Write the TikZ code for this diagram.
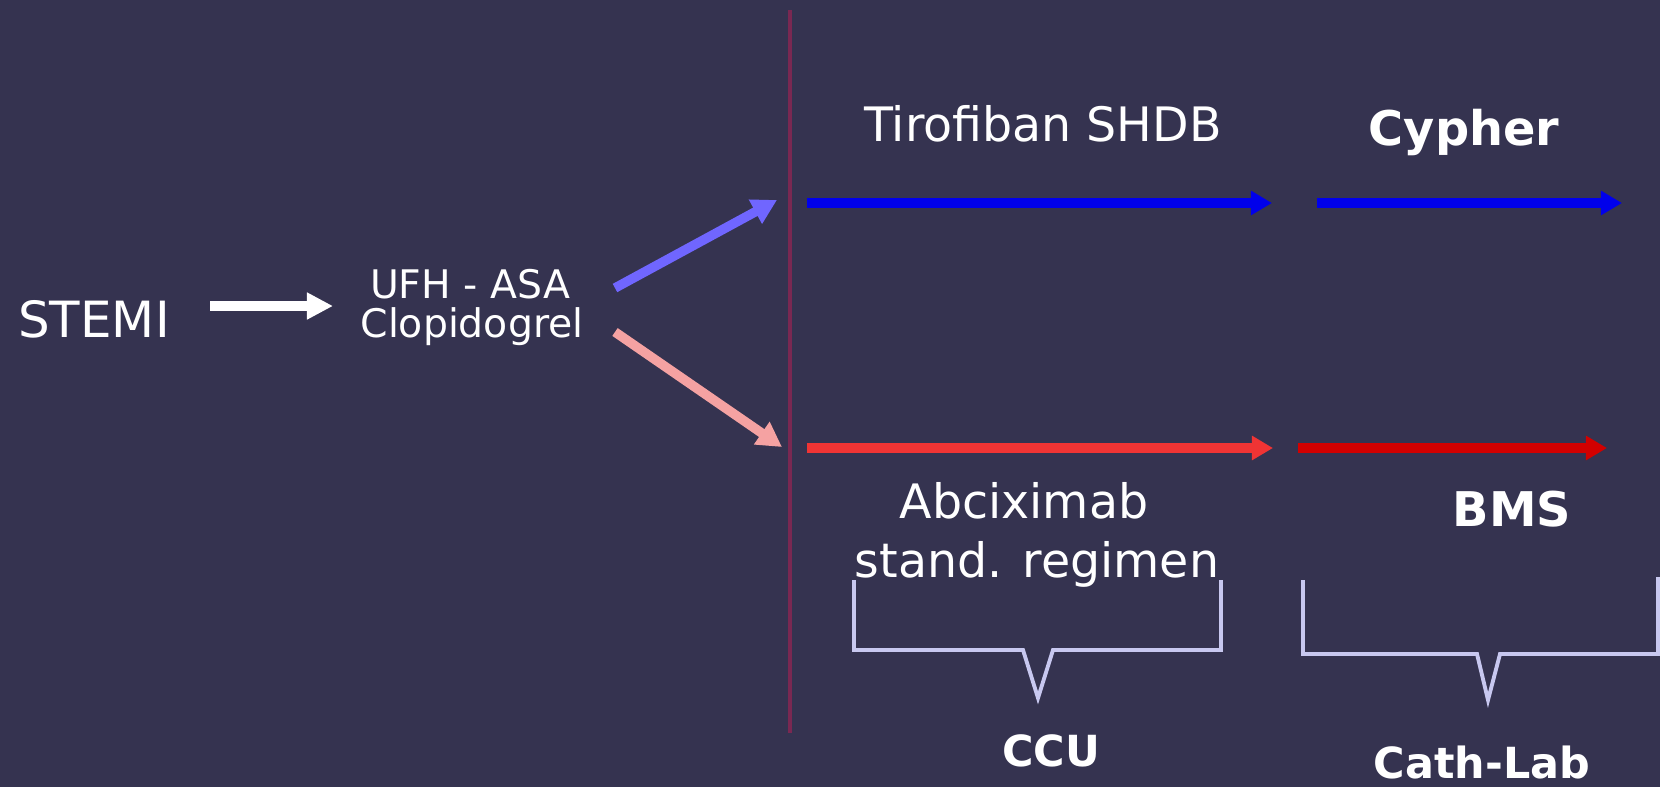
\documentclass[tikz,border=0pt]{standalone}
\usepackage{fontspec}
\setmainfont{DejaVu Sans}
\usepackage{xcolor}
\usetikzlibrary{arrows.meta}
\definecolor{slide}{RGB}{53,51,80}
\definecolor{topblue}{RGB}{0,0,235}
\definecolor{paleblue}{RGB}{112,102,255}
\definecolor{palered}{RGB}{245,162,162}
\definecolor{midred}{RGB}{240,52,52}
\definecolor{deepred}{RGB}{210,0,0}
\definecolor{bracket}{RGB}{200,200,240}
\definecolor{divider}{RGB}{122,40,82}

\tikzset{
  lbl/.style={text=white,inner sep=0pt,anchor=base},
  flow/.style={line width=2.7pt,-{Triangle[length=6pt,width=6.6pt]}},
  brace/.style={draw=bracket,line width=1.1pt,line join=miter}
}

\begin{document}
\begin{tikzpicture}
\fill[slide] (0,0) rectangle (16.6,7.87);
\useasboundingbox (0,0) rectangle (16.6,7.87);

\draw[divider,line width=1.3pt] (7.90,7.77)--(7.90,0.54);

\node[lbl,font=\fontsize{14.2}{17}\selectfont] (stemi) at (0.94,4.50) {STEMI};
\node[lbl,font=\fontsize{11.2}{13}\selectfont] (ufh) at (4.70,4.89) {UFH - ASA};
\node[lbl,font=\fontsize{11.2}{13}\selectfont] (clop) at (4.72,4.50) {Clopidogrel};

\node[lbl,font=\fontsize{13.5}{16}\selectfont] (tirofiban) at (10.43,6.46) {Tirofiban SHDB};
\node[lbl,font=\fontsize{13.6}{16}\selectfont\bfseries] (cypher) at (14.64,6.42) {Cypher};
\node[lbl,font=\fontsize{13.5}{16}\selectfont] (abcix) at (10.24,2.69) {Abciximab};
\node[lbl,font=\fontsize{13.5}{16}\selectfont] (regimen) at (10.37,2.10) {stand. regimen};
\node[lbl,font=\fontsize{13.6}{16}\selectfont\bfseries] (bms) at (15.12,2.61) {BMS};
\node[lbl,font=\fontsize{12.2}{15}\selectfont\bfseries] (ccu) at (10.51,0.21) {CCU};
\node[lbl,font=\fontsize{12.2}{15}\selectfont\bfseries] (cathlab) at (14.82,0.09) {Cath-Lab};

\coordinate (in0) at (2.10,4.81);
\coordinate (in1) at (3.33,4.81);
\coordinate (fork up) at (6.15,4.99);
\coordinate (fork down) at (6.15,4.55);
\coordinate (up end) at (7.77,5.87);
\coordinate (down end) at (7.82,3.40);
\coordinate (b0) at (8.07,5.84);
\coordinate (b1) at (12.72,5.84);
\coordinate (b2) at (13.17,5.84);
\coordinate (b3) at (16.22,5.84);
\coordinate (r0) at (8.07,3.39);
\coordinate (r1) at (12.73,3.39);
\coordinate (r2) at (12.98,3.39);
\coordinate (r3) at (16.07,3.39);

\draw[flow,white,-{Triangle[length=7.4pt,width=7.2pt]}] (in0)--(in1);
\draw[flow,paleblue,-{Triangle[length=7pt,width=7.4pt]}] (fork up)--(up end);
\draw[flow,palered,-{Triangle[length=7pt,width=7.4pt]}] (fork down)--(down end);
\draw[flow,topblue] (b0)--(b1);
\draw[flow,topblue] (b2)--(b3);
\draw[flow,midred] (r0)--(r1);
\draw[flow,deepred] (r2)--(r3);

\draw[brace] (8.54,2.07)--(8.54,1.37)--(10.23,1.37)--(10.38,0.89)--(10.53,1.37)--(12.21,1.37)--(12.21,2.07);
\draw[brace] (13.03,2.07)--(13.03,1.33)--(14.77,1.33)--(14.88,0.87)--(15.00,1.33)--(16.58,1.33)--(16.58,2.10);
\end{tikzpicture}
\end{document}
